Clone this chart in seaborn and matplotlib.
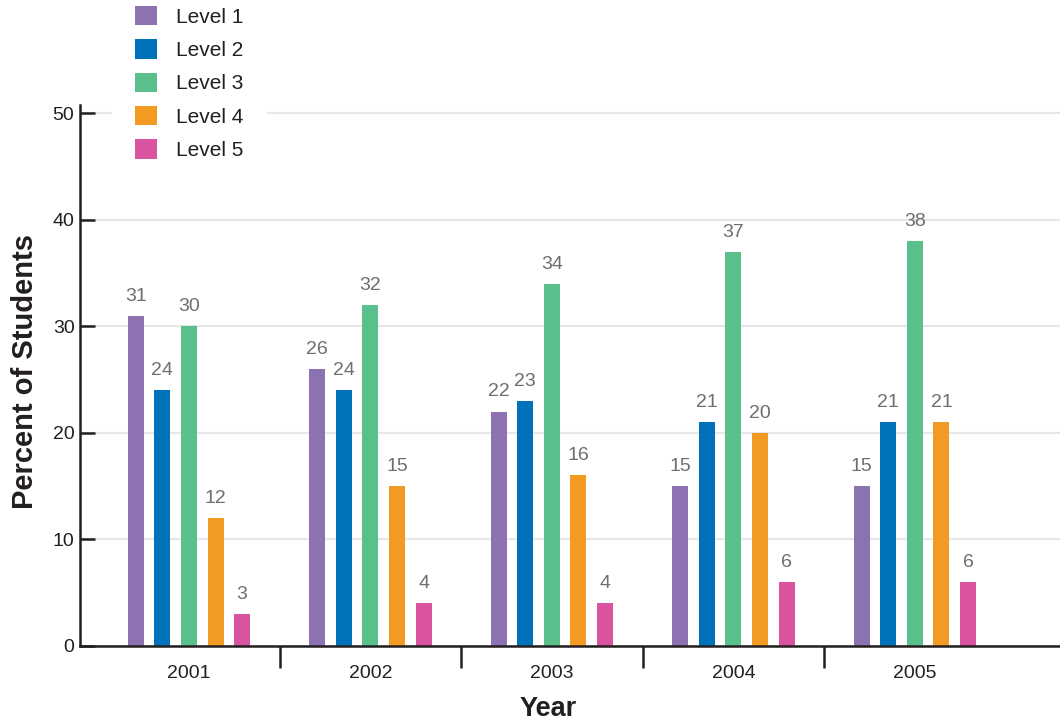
import matplotlib
matplotlib.use("Agg")
import matplotlib.pyplot as plt
import seaborn as sns
import pandas as pd

years = ["2001", "2002", "2003", "2004", "2005"]
levels = ["Level 1", "Level 2", "Level 3", "Level 4", "Level 5"]
level1 = [31, 26, 22, 15, 15]
level2 = [24, 24, 23, 21, 21]
level3 = [30, 32, 34, 37, 38]
level4 = [12, 15, 16, 20, 21]
level5 = [3, 4, 4, 6, 6]
colors = ["#8c72b0", "#0072bc", "#5bbf8b", "#f39a22", "#d9539f"]

rows = []
for lvl, vals in zip(levels, [level1, level2, level3, level4, level5]):
    for yr, v in zip(years, vals):
        rows.append({"Year": yr, "Level": lvl, "Percent": v})
df = pd.DataFrame(rows)

sns.set_style("white")
plt.rcParams["font.family"] = ["Liberation Sans", "DejaVu Sans"]

dark = "#231f20"
gray_txt = "#6d6e71"

fig = plt.figure(figsize=(10.6, 7.21), dpi=100)
ax = fig.add_axes([0.0755, 0.1044, 0.9245, 0.75])

sns.barplot(data=df, x="Year", y="Percent", hue="Level", hue_order=levels,
            order=years, palette=colors, saturation=1, width=0.733, gap=0.4,
            linewidth=0, errorbar=None, ax=ax)

for cont in ax.containers:
    ax.bar_label(cont, fmt="%d", padding=8, fontsize=14, color=gray_txt)

ax.set_xlim(-0.60, 4.80)
ax.set_ylim(0, 50.8)
ax.set_yticks([0, 10, 20, 30, 40, 50])
ax.yaxis.grid(True, color="#e6e6e6", linewidth=1.5)
ax.set_axisbelow(True)

for side in ["top", "right"]:
    ax.spines[side].set_visible(False)
for side in ["left", "bottom"]:
    ax.spines[side].set_color(dark)
    ax.spines[side].set_linewidth(1.8)

ax.tick_params(axis="y", left=True, direction="in", length=11, width=1.8,
               color=dark, labelsize=14, labelcolor=dark, pad=4)
ax.tick_params(axis="x", which="major", bottom=True, length=0, labelsize=14,
               labelcolor=dark, pad=14)
ax.set_xticks([0.5, 1.5, 2.5, 3.5], minor=True)
ax.tick_params(axis="x", which="minor", bottom=True, direction="out",
               length=16, width=1.8, color=dark)

ax.set_xlabel("Year", fontsize=19.5, fontweight="bold", color=dark)
ax.xaxis.set_label_coords(0.4776, -0.093)
ax.set_ylabel("Percent of Students", fontsize=21, fontweight="bold",
              color=dark)
ax.yaxis.set_label_coords(-0.042, 0.508)

handles, labels = ax.get_legend_handles_labels()
leg = ax.legend(handles, labels, loc="upper left",
                bbox_to_anchor=(112 / 1060, 1 + 17 / 721),
                bbox_transform=fig.transFigure, fontsize=15,
                handlelength=1.06, handleheight=1.06, handletextpad=0.9,
                labelspacing=0.6, borderpad=1.1, frameon=True,
                facecolor="white", edgecolor="white", framealpha=1,
                borderaxespad=0)
for t in leg.get_texts():
    t.set_color(dark)

fig.savefig("out.png", dpi=100)
